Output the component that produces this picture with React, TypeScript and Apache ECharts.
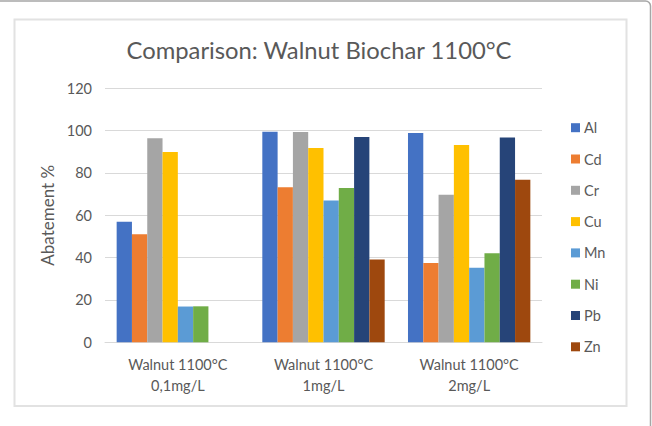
import React, { useEffect, useRef } from "react";
import * as echarts from "echarts";

const categories = ["Walnut 1100°C\n0,1mg/L", "Walnut 1100°C\n1mg/L", "Walnut 1100°C\n2mg/L"];
const metals = ["Al", "Cd", "Cr", "Cu", "Mn", "Ni", "Pb", "Zn"];
const alValues = [57, 99.5, 98.9];
const cdValues = [51, 73.2, 37.5];
const crValues = [96.4, 99.4, 69.7];
const cuValues = [89.9, 91.8, 93.2];
const mnValues = [16.9, 67, 35.2];
const niValues = [17, 72.9, 42.1];
const pbValues = [null, 97, 96.8];
const znValues = [null, 39.1, 76.8];
const yTicks = { min: 0, max: 120, interval: 20 };

const seriesValues = [alValues, cdValues, crValues, cuValues, mnValues, niValues, pbValues, znValues];
const colors = ["#4472C4", "#ED7D31", "#A5A5A5", "#FFC000", "#5B9BD5", "#70AD47", "#264478", "#9E480E"];

const FONT = "Lato, 'Open Sans', sans-serif";

export default function App() {
  const ref = useRef<HTMLDivElement>(null);
  useEffect(() => {
    document.body.style.margin = "0";
    if (!ref.current) return;
    const chart = echarts.init(ref.current, null, { renderer: "svg" });
    chart.setOption({
      animation: false,
      backgroundColor: "#ffffff",
      textStyle: { fontFamily: FONT },
      graphic: [
        {
          type: "rect",
          shape: { x: -10, y: 1, width: 660.5, height: 500, r: 5 },
          style: { fill: "none", stroke: "#a6a6a6", lineWidth: 1.5 },
          silent: true,
        },
        {
          type: "rect",
          shape: { x: 14.5, y: 19.5, width: 612, height: 386.5 },
          style: { fill: "none", stroke: "#e2e2e2", lineWidth: 2 },
          silent: true,
        },
        {
          type: "text",
          x: 319,
          y: 50,
          style: {
            text: "Comparison: Walnut Biochar 1100°C",
            fill: "#595959",
            font: `23.8px ${FONT}`,
            align: "center",
            verticalAlign: "middle",
          },
        },
      ],
      grid: { left: 105, right: 110, top: 88.3, bottom: 83.7, containLabel: false },
      legend: {
        orient: "vertical",
        left: 571,
        top: 119.7,
        itemWidth: 9,
        itemHeight: 9,
        itemGap: 15.3,
        icon: "rect",
        data: metals,
        textStyle: { color: "#595959", fontSize: 14.5, lineHeight: 16, fontFamily: FONT, padding: [0, 0, 0, -1] },
        padding: 0,
      },
      xAxis: {
        type: "category",
        data: categories,
        axisLine: { lineStyle: { color: "#d9d9d9", width: 1 } },
        axisTick: { show: false },
        axisLabel: { color: "#595959", fontSize: 14.5, lineHeight: 21, margin: 12, fontFamily: FONT },
      },
      yAxis: {
        type: "value",
        min: yTicks.min,
        max: yTicks.max,
        interval: yTicks.interval,
        name: "Abatement %",
        nameLocation: "middle",
        nameGap: 46,
        nameTextStyle: { color: "#595959", fontSize: 17, fontFamily: FONT },
        axisLine: { show: false },
        axisTick: { show: false },
        axisLabel: { color: "#595959", fontSize: 14.5, margin: 13, fontFamily: FONT },
        splitLine: { lineStyle: { color: "#d9d9d9", width: 1 } },
      },
      series: metals.map((m, i) => ({
        name: m,
        type: "bar",
        data: seriesValues[i],
        itemStyle: { color: colors[i] },
        barGap: "0%",
        barCategoryGap: "16%",
      })),
    });
    return () => chart.dispose();
  }, []);
  return <div ref={ref} style={{ width: 652, height: 426 }} />;
}
